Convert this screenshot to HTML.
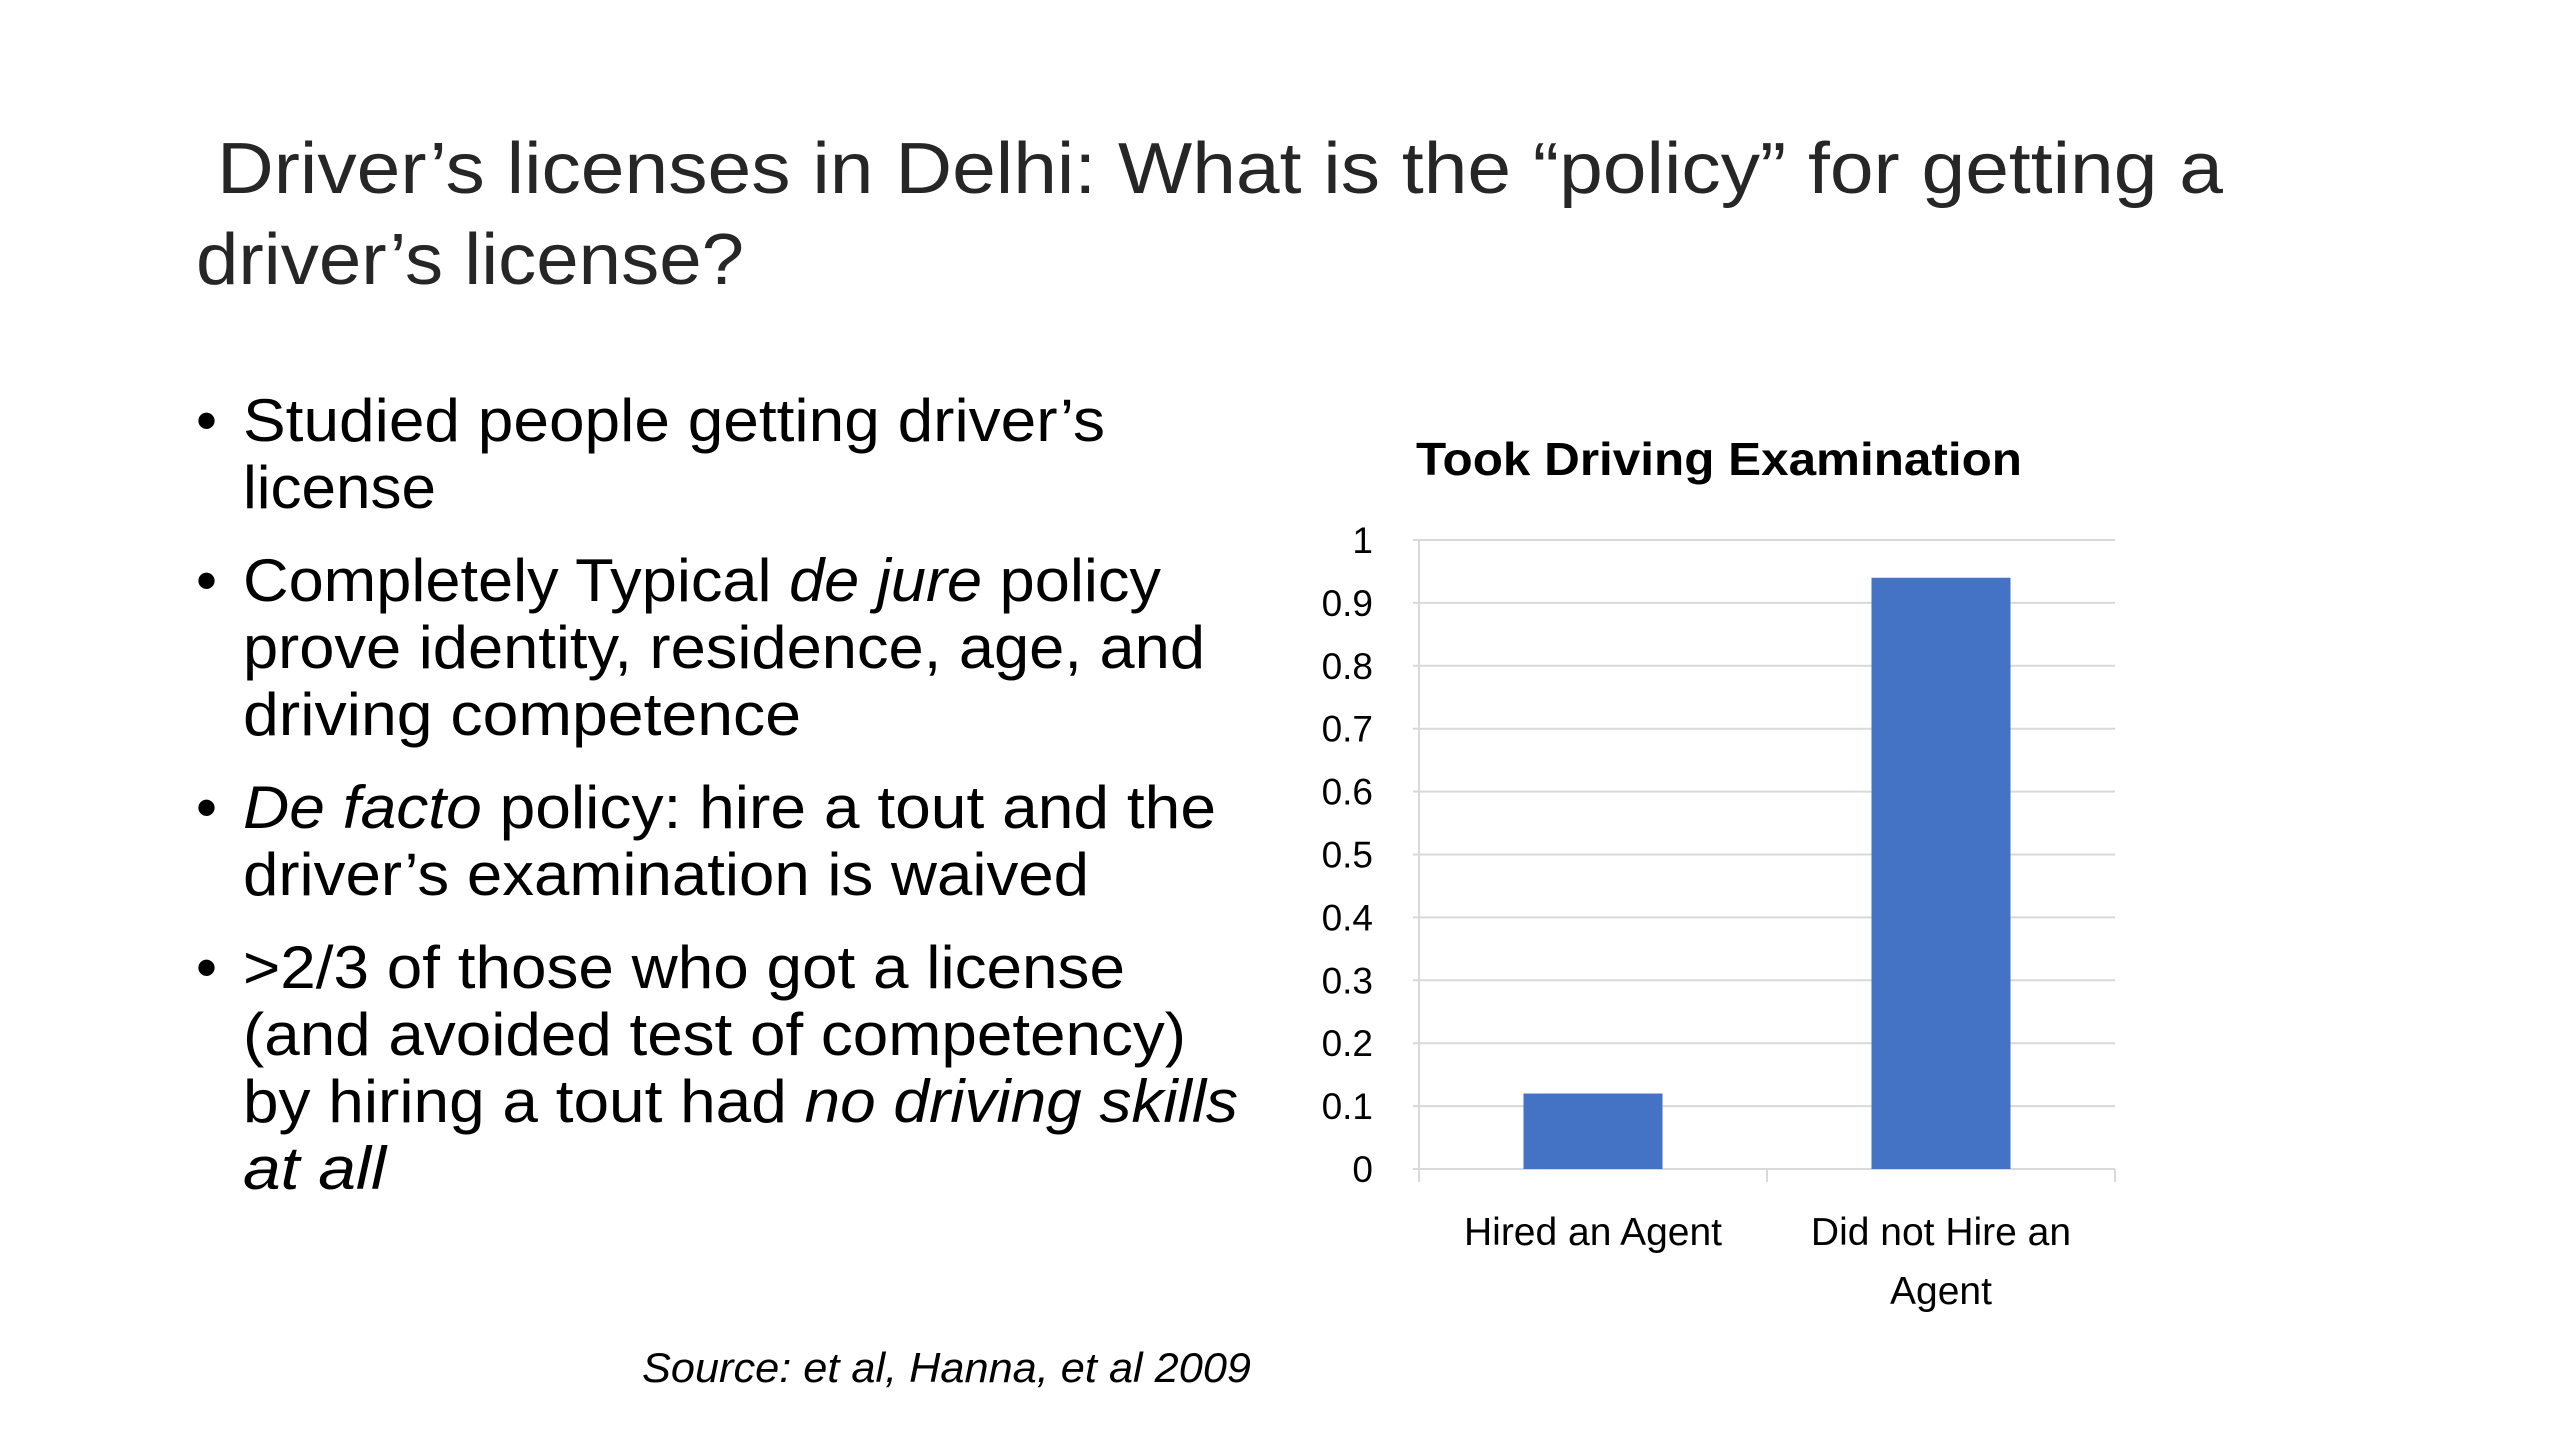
<!DOCTYPE html>
<html><head><meta charset="utf-8"><style>
html,body{margin:0;padding:0;background:#fff;width:2560px;height:1440px;overflow:hidden}
svg{display:block;font-family:"Liberation Sans",sans-serif}
</style></head><body>
<svg id="slide" width="2560" height="1440" viewBox="0 0 2560 1440">
<g fill="#262626" font-size="72">
<text x="217" y="193" textLength="2006" lengthAdjust="spacingAndGlyphs">Driver’s licenses in Delhi:  What is the “policy” for getting a</text>
<text x="196" y="284" textLength="548" lengthAdjust="spacingAndGlyphs">driver’s license?</text>
</g>
<g fill="#000" font-size="60">
<text x="196" y="441">•</text>
<text x="243" y="441" textLength="862" lengthAdjust="spacingAndGlyphs">Studied people getting driver’s</text>
<text x="243" y="508" textLength="193" lengthAdjust="spacingAndGlyphs">license</text>
<text x="196" y="601">•</text>
<text x="243" y="601" textLength="918" lengthAdjust="spacingAndGlyphs">Completely Typical <tspan font-style="italic">de jure</tspan> policy</text>
<text x="243" y="668" textLength="962" lengthAdjust="spacingAndGlyphs">prove identity, residence, age, and</text>
<text x="243" y="735" textLength="558" lengthAdjust="spacingAndGlyphs">driving competence</text>
<text x="196" y="828">•</text>
<text x="243" y="828" textLength="973" lengthAdjust="spacingAndGlyphs"><tspan font-style="italic">De facto</tspan> policy: hire a tout and the</text>
<text x="243" y="895" textLength="846" lengthAdjust="spacingAndGlyphs">driver’s examination is waived</text>
<text x="196" y="988">•</text>
<text x="243" y="988" textLength="882" lengthAdjust="spacingAndGlyphs">&gt;2/3 of those who got a license</text>
<text x="243" y="1055" textLength="943" lengthAdjust="spacingAndGlyphs">(and avoided test of competency)</text>
<text x="243" y="1122" textLength="995" lengthAdjust="spacingAndGlyphs">by hiring a tout had <tspan font-style="italic">no driving skills</tspan></text>
<text x="243" y="1189" font-style="italic" textLength="143" lengthAdjust="spacingAndGlyphs">at all</text>
</g>
<text x="642" y="1382" font-size="42" font-style="italic" fill="#000" textLength="609" lengthAdjust="spacingAndGlyphs">Source: et al, Hanna, et al 2009</text>
<text x="1416" y="475" font-size="46" font-weight="bold" fill="#000" textLength="606" lengthAdjust="spacingAndGlyphs">Took Driving Examination</text>
<g id="chart"></g>
</svg>
<script>
const categories = [["Hired an Agent"], ["Did not Hire an", "Agent"]];
const values = [0.12, 0.94];
const tickLabels = ["0","0.1","0.2","0.3","0.4","0.5","0.6","0.7","0.8","0.9","1"];
const tickValues = [0,0.1,0.2,0.3,0.4,0.5,0.6,0.7,0.8,0.9,1];

const NS = "http://www.w3.org/2000/svg";
const g = document.getElementById("chart");
const X0 = 1419, X1 = 2115, Y0 = 1169, Y1 = 540;
const yScale = v => Y0 - (v - 0) / (1 - 0) * (Y0 - Y1);
const band = (X1 - X0) / categories.length;
const xCenter = i => X0 + band * (i + 0.5);
const barW = 139;
function mk(tag, attrs) { const e = document.createElementNS(NS, tag); for (const k in attrs) e.setAttribute(k, attrs[k]); g.appendChild(e); return e; }

tickValues.forEach((v, i) => {
  const y = yScale(v);
  const line = mk("line", {x1: X0 - 6, x2: X1, y1: y, y2: y, stroke: "#d9d9d9", "stroke-width": 2});
  
  
  const t = mk("text", {x: 1373, y: y + 13, "text-anchor": "end", "font-size": 37, fill: "#000"});
  t.textContent = tickLabels[i];
  
  
});
const yAxis = mk("line", {x1: X0, x2: X0, y1: Y1, y2: Y0 + 13, stroke: "#d9d9d9", "stroke-width": 2});


for (let i = 0; i <= categories.length; i++) {
  const x = X0 + band * i;
  const tk = mk("line", {x1: x, x2: x, y1: Y0, y2: Y0 + 13, stroke: "#d9d9d9", "stroke-width": 2});
  
  
}
values.forEach((v, i) => {
  const y = yScale(v);
  const r = mk("rect", {x: xCenter(i) - barW / 2, y: y, width: barW, height: Y0 - y, fill: "#4472c4"});
  
  
  categories[i].forEach((ln, j) => {
    const t = mk("text", {x: xCenter(i), y: 1245 + j * 59, "text-anchor": "middle", "font-size": 39, fill: "#000"});
    t.textContent = ln;
    
    
  });
});
</script>
</body></html>
